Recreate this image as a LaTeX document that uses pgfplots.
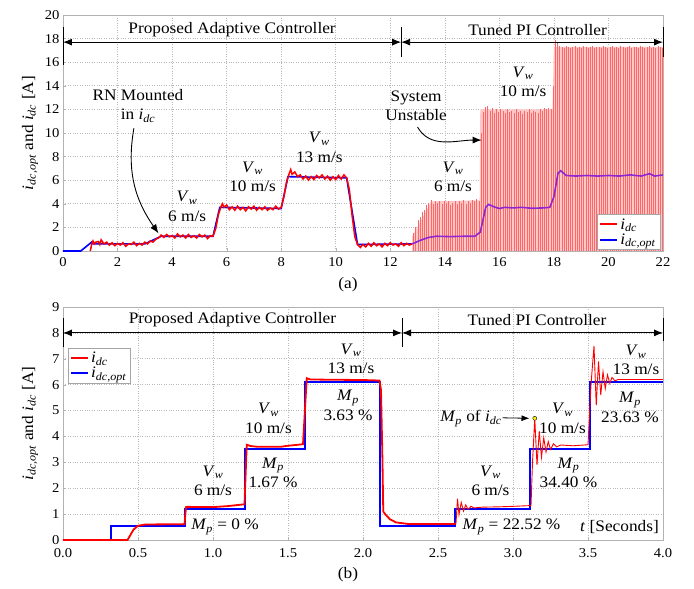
\documentclass[border=0pt]{standalone}
\usepackage{fontspec}
\setmainfont{Liberation Serif}[FakeStretch=1.08]
\usepackage{pgfplots}
\pgfplotsset{compat=1.18}
\usetikzlibrary{arrows.meta}

\newcommand{\af}{\fontsize{16}{19.5}\selectfont}
\newcommand{\sub}[2]{\textit{#1}\textsubscript{\textit{#2}}}
\newcommand{\vw}{\sub{V}{w}}
\newcommand{\Mp}{\sub{M}{p}}
\definecolor{purp}{RGB}{140,40,210}

\tikzset{
  ann/.style={font=\af, align=center},
  arr/.style={-{Latex[length=9pt,width=7pt]}, line width=0.9pt},
  darr/.style={{Latex[length=9pt,width=7pt]}-{Latex[length=9pt,width=7pt]}, line width=0.9pt},
}
\pgfplotsset{
  panel/.style={
    scale only axis, width=600pt,
    axis line style={gray!60}, tick style={gray!60},
    xtick pos=bottom, ytick pos=left, major tick length=3pt,
    grid=major, major grid style={dotted, gray!55, line width=0.6pt},
    tick label style={font=\fontsize{13.5}{15}\selectfont},
    xticklabel style={yshift=-3pt},
    /pgf/number format/assume math mode=true,
    label style={font=\af},
    ylabel={\sub{i}{dc,opt} and \sub{i}{dc} [A]},
    ylabel style={at={(rel axis cs:-0.055,0.5)}, anchor=center},
    legend style={font=\af, draw=gray!70, row sep=-1pt, inner sep=2pt},
    legend image post style={line width=2pt},
    legend cell align=left,
    clip=false,
  },
}

\begin{document}
\begin{tikzpicture}
\useasboundingbox (-63pt,-338pt) rectangle (631pt,251pt);

% ---------------- (a) ----------------
\begin{axis}[panel, at={(0pt,0pt)}, anchor=south west, height=236pt,
  xmin=0, xmax=22, ymin=0, ymax=20,
  xtick={0,2,...,22}, ytick={0,2,...,20},
  legend style={at={(0.995,0.005)}, anchor=south east}]

\addlegendimage{red}
\addlegendentry{\sub{i}{dc}}
\addlegendimage{blue}
\addlegendentry{\sub{i}{dc,opt}}

% reference current, stable part
\addplot[blue, line width=1.6pt, forget plot] coordinates {
 (0,0) (0.65,0) (1.05,0.75) (1.1,0.6) (3.0,0.6) (3.6,1.25) (5.5,1.25)
 (5.75,3.7) (8.0,3.6) (8.25,6.3) (10.4,6.2) (10.8,0.55) (12.8,0.6)
};
% measured current, adaptive controller
\addplot[red, line width=1.5pt, forget plot] coordinates {
 (1.0,0) (1.05,0.55) (1.1,0.85) (1.15,0.6) (1.2,0.75) (1.3,0.8) (1.35,0.55) (1.4,0.95) (1.5,0.6)
 (1.6,0.75) (1.7,0.5) (1.8,0.7) (1.9,0.45) (2.0,0.65) (2.1,0.5) (2.2,0.7)
 (2.3,0.4) (2.4,0.6) (2.5,0.55) (2.6,0.75) (2.7,0.45) (2.8,0.65) (2.9,0.5)
 (3.0,0.75) (3.1,0.6) (3.2,0.85) (3.3,0.75) (3.4,1.0) (3.5,1.1) (3.6,1.35)
 (3.7,1.15) (3.8,1.4) (3.9,1.2) (4.0,1.3) (4.1,1.1) (4.2,1.45) (4.3,1.2)
 (4.4,1.35) (4.5,1.1) (4.6,1.4) (4.7,1.15) (4.8,1.3) (4.9,1.1) (5.0,1.4)
 (5.1,1.2) (5.2,1.35) (5.3,1.05) (5.4,1.3) (5.5,1.25) (5.6,1.9) (5.7,3.1)
 (5.8,3.8) (5.85,4.0) (5.9,3.7) (6.0,3.9) (6.1,3.5) (6.2,3.75) (6.3,3.45)
 (6.4,3.8) (6.5,3.5) (6.6,3.7) (6.7,3.4) (6.8,3.75) (6.9,3.55) (7.0,3.8)
 (7.1,3.45) (7.2,3.7) (7.3,3.5) (7.4,3.75) (7.5,3.45) (7.6,3.65) (7.7,3.5)
 (7.8,3.8) (7.9,3.55) (8.0,3.7) (8.1,4.6) (8.2,5.9) (8.3,6.6) (8.35,6.9)
 (8.4,6.5) (8.5,6.7) (8.6,6.3) (8.7,6.45) (8.8,6.1) (8.9,6.35) (9.0,6.0)
 (9.1,6.3) (9.2,6.05) (9.3,6.4) (9.4,6.2) (9.5,6.45) (9.6,6.1) (9.7,6.35)
 (9.8,6.0) (9.9,6.3) (10.0,6.05) (10.1,6.4) (10.2,6.1) (10.3,6.45) (10.4,6.2)
 (10.5,5.2) (10.6,3.0) (10.7,1.2) (10.8,0.55) (10.9,0.3) (11.0,0.55)
 (11.1,0.35) (11.2,0.65) (11.3,0.4) (11.4,0.7) (11.5,0.45) (11.6,0.6)
 (11.7,0.35) (11.8,0.65) (11.9,0.45) (12.0,0.7) (12.1,0.5) (12.2,0.6)
 (12.3,0.4) (12.4,0.7) (12.5,0.45) (12.6,0.65) (12.7,0.5) (12.8,0.6)
};
% measured current, PI controller (unstable)
\addplot[fill=red!22, draw=none, forget plot] coordinates {
 (12.8,0) (12.8,1.2) (13.5,4.2) (15.28,4.3) (15.3,12.0) (17.95,12.0)
 (18.0,17.3) (22,17.3) (22,0)
} -- cycle;
\addplot[ycomb, red!60, line width=0.5pt, forget plot] coordinates {
 (12.85,1.5) (12.93,2.0) (13.01,2.6) (13.09,2.9) (13.17,3.3) (13.25,3.5)
 (13.33,3.9) (13.41,4.1) (13.49,4.3) (13.57,4.0) (13.65,4.2) (13.73,4.1)
 (13.81,4.2) (13.89,4.0) (13.97,4.2) (14.05,4.1) (14.13,4.2) (14.21,3.9)
 (14.29,4.1) (14.37,4.2) (14.45,4.0) (14.53,4.2) (14.61,4.1) (14.69,4.3)
 (14.77,4.0) (14.85,4.2) (14.93,4.1) (15.01,4.3) (15.09,4.2) (15.17,4.4)
 (15.25,4.2) (15.33,10.0) (15.41,11.8) (15.49,12.2) (15.57,12.3) (15.65,11.9)
 (15.73,12.1) (15.81,11.7) (15.89,12.0) (15.97,11.8) (16.05,12.0) (16.13,11.9)
 (16.21,11.7) (16.29,12.0) (16.37,11.8) (16.45,11.9) (16.53,11.7) (16.61,12.0)
 (16.69,11.8) (16.77,11.9) (16.85,11.6) (16.93,11.9) (17.01,11.8) (17.09,12.0)
 (17.17,11.7) (17.25,11.9) (17.33,11.8) (17.41,11.7) (17.49,12.0) (17.57,11.9)
 (17.65,12.1) (17.73,12.0) (17.81,12.1) (17.89,12.0) (17.97,14.0) (18.05,17.9)
 (18.13,17.6) (18.21,17.4) (18.29,17.3) (18.37,17.2) (18.45,17.4) (18.53,17.3)
 (18.61,17.2) (18.69,17.3) (18.77,17.4) (18.85,17.2) (18.93,17.3) (19.01,17.2)
 (19.09,17.4) (19.17,17.3) (19.25,17.2) (19.33,17.3) (19.41,17.4) (19.49,17.2)
 (19.57,17.3) (19.65,17.3) (19.73,17.2) (19.81,17.4) (19.89,17.3) (19.97,17.2)
 (20.05,17.3) (20.13,17.4) (20.21,17.2) (20.29,17.3) (20.37,17.2) (20.45,17.4)
 (20.53,17.3) (20.61,17.2) (20.69,17.3) (20.77,17.4) (20.85,17.2) (20.93,17.3)
 (21.01,17.3) (21.09,17.2) (21.17,17.4) (21.25,17.3) (21.33,17.2) (21.41,17.3)
 (21.49,17.4) (21.57,17.2) (21.65,17.3) (21.73,17.2) (21.81,17.4) (21.89,17.3)
 (21.97,17.2)
};
% reference current, PI part
\addplot[purp, line width=1.6pt, forget plot] coordinates {
 (12.8,0.6) (13.1,0.9) (13.4,1.15) (13.7,1.25) (14.2,1.22) (14.7,1.25)
 (15.1,1.25) (15.3,1.6) (15.5,3.7) (15.6,3.95) (15.8,3.75) (16.0,3.6)
 (16.2,3.7) (16.5,3.65) (16.8,3.7) (17.2,3.62) (17.6,3.65) (17.85,3.7)
 (18.0,4.6) (18.15,6.6) (18.25,6.8) (18.45,6.4) (18.8,6.35) (19.2,6.4)
 (19.6,6.35) (20.0,6.4) (20.4,6.35) (20.8,6.45) (21.2,6.35) (21.5,6.55)
 (21.7,6.35) (22,6.45)
};

\draw[darr] (axis cs:0,17.7) -- (axis cs:12.4,17.7);
\draw[darr] (axis cs:12.4,17.7) -- (axis cs:22,17.7);
\draw[line width=0.9pt] (axis cs:0,15.8) -- (axis cs:0,19.0);
\draw[line width=0.9pt] (axis cs:12.4,16.4) -- (axis cs:12.4,19.0);
\draw[line width=0.9pt] (axis cs:22,16.4) -- (axis cs:22,19.0);
\node[ann] at (axis cs:6.2,18.75) {Proposed Adaptive Controller};
\node[ann] at (axis cs:17.4,18.75) {Tuned PI Controller};

\node[ann] at (axis cs:2.75,12.3) {RN Mounted\\in \sub{i}{dc}};
\draw[arr] (axis cs:2.6,10.4) to[out=-100, in=125] (axis cs:3.5,1.5);
\node[ann] at (axis cs:4.55,3.8) {\vw\\6 m/s};
\node[ann] at (axis cs:6.95,6.3) {\vw\\10 m/s};
\node[ann] at (axis cs:9.4,8.8) {\vw\\13 m/s};
\node[ann] at (axis cs:12.95,12.3) {System\\Unstable};
\draw[arr] (axis cs:13.0,10.5) to[out=-60, in=180] (axis cs:15.35,9.4);
\node[ann] at (axis cs:14.3,6.3) {\vw\\6 m/s};
\node[ann] at (axis cs:16.87,14.35) {\vw\\10 m/s};
\end{axis}

\node[font=\af] at (285pt,-34pt) {(a)};

% ---------------- (b) ----------------
\begin{axis}[panel, at={(0pt,-289pt)}, anchor=south west, height=233pt,
  xmin=0, xmax=4, ymin=0, ymax=9,
  xtick={0,0.5,...,4}, ytick={0,1,...,9},
  xticklabel style={yshift=-2pt, /pgf/number format/.cd, fixed, fixed zerofill, precision=1},
  legend style={at={(0.008,0.824)}, anchor=north west}]

\addlegendimage{red}
\addlegendentry{\sub{i}{dc}}
\addlegendimage{blue}
\addlegendentry{\sub{i}{dc,opt}}

\addplot[blue, line width=2pt, forget plot] coordinates {
 (0,0) (0.32,0) (0.32,0.55) (0.81,0.55) (0.81,1.2) (1.21,1.2) (1.21,3.5)
 (1.61,3.5) (1.61,6.1) (2.11,6.1) (2.11,0.55) (2.61,0.55) (2.61,1.2)
 (3.11,1.2) (3.11,3.5) (3.51,3.5) (3.51,6.1) (4.0,6.1)
};
\addplot[red, line width=1.8pt, forget plot] coordinates {
 (0,0) (0.43,0) (0.45,0.2) (0.47,0.4) (0.5,0.55) (0.55,0.6) (0.81,0.61)
 (0.82,1.27) (0.83,1.28) (1.0,1.27) (1.1,1.31) (1.21,1.38) (1.225,3.68)
 (1.25,3.63) (1.3,3.6) (1.45,3.6) (1.5,3.64) (1.6,3.7) (1.625,6.25)
 (1.65,6.2) (1.8,6.19) (2.0,6.18) (2.11,6.16) (2.12,5.8) (2.13,3.0)
 (2.135,1.1) (2.15,0.98) (2.18,0.8) (2.22,0.68) (2.3,0.62) (2.61,0.62)
 (2.62,0.65)
};
\addplot[red, line width=0.9pt, forget plot] coordinates {
 (2.62,0.65) (2.63,1.6) (2.64,0.98) (2.655,1.45) (2.67,1.12) (2.685,1.36)
 (2.7,1.18) (2.72,1.3) (2.74,1.24) (2.8,1.27) (2.9,1.28) (3.0,1.3)
 (3.12,1.33) (3.13,3.0) (3.145,4.7) (3.16,2.9) (3.175,4.2) (3.19,3.2)
 (3.205,3.95) (3.22,3.4) (3.235,3.8) (3.25,3.5) (3.27,3.72) (3.29,3.6)
 (3.32,3.67) (3.4,3.64) (3.5,3.68) (3.52,6.0) (3.54,7.5) (3.555,5.2)
 (3.57,6.9) (3.585,5.6) (3.60,6.5) (3.615,5.85) (3.63,6.38) (3.645,6.05)
 (3.66,6.28) (3.68,6.15) (3.7,6.2)
};
\addplot[red, line width=1.8pt, forget plot] coordinates {
 (3.7,6.2) (3.8,6.2) (4.0,6.2)
};
\addplot[only marks, mark=*, mark size=2pt, mark options={fill=yellow, draw=black}, forget plot]
 coordinates {(3.145,4.7)};

\draw[darr] (axis cs:0,8.0) -- (axis cs:2.26,8.0);
\draw[darr] (axis cs:2.26,8.0) -- (axis cs:4,8.0);
\draw[line width=0.9pt] (axis cs:0,7.45) -- (axis cs:0,8.57);
\draw[line width=0.9pt] (axis cs:2.26,7.45) -- (axis cs:2.26,8.57);
\draw[line width=0.9pt] (axis cs:4,7.7) -- (axis cs:4,8.57);
\node[ann] at (axis cs:1.13,8.5) {Proposed Adaptive Controller};
\node[ann] at (axis cs:3.16,8.5) {Tuned PI Controller};

\node[ann] at (axis cs:1.0,2.28) {\vw\\6 m/s};
\node[ann] at (axis cs:1.08,0.5) {\Mp{} = 0 \%};
\node[ann] at (axis cs:1.37,4.7) {\vw\\10 m/s};
\node[ann] at (axis cs:1.4,2.6) {\Mp\\1.67 \%};
\node[ann] at (axis cs:1.92,7.0) {\vw\\13 m/s};
\node[ann] at (axis cs:1.9,5.2) {\Mp\\3.63 \%};
\node[ann] at (axis cs:2.85,2.28) {\vw\\6 m/s};
\node[ann] at (axis cs:2.99,0.5) {\Mp{} = 22.52 \%};
\node[ann] at (axis cs:3.71,0.5) {\textit{t} [Seconds]};
\node[ann] at (axis cs:2.72,4.7) {\Mp{} of \sub{i}{dc}};
\draw[-{Latex[length=8pt,width=6pt]}, line width=0.8pt] (axis cs:2.93,4.72) -- (axis cs:3.11,4.7);
\node[ann] at (axis cs:3.33,4.7) {\vw\\10 m/s};
\node[ann] at (axis cs:3.37,2.6) {\Mp\\34.40 \%};
\node[ann] at (axis cs:3.82,6.95) {\vw\\13 m/s};
\node[ann] at (axis cs:3.78,5.12) {\Mp\\23.63 \%};
\end{axis}

\node[font=\af] at (285pt,-324pt) {(b)};
\end{tikzpicture}
\end{document}
